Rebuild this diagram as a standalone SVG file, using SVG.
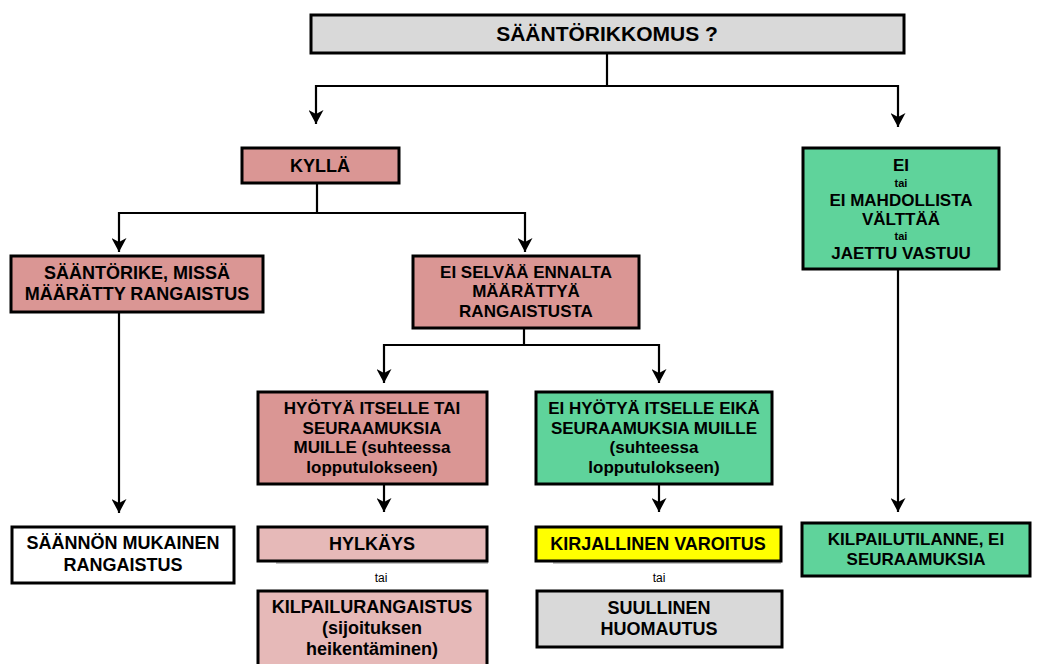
<svg xmlns="http://www.w3.org/2000/svg" width="1049" height="664" viewBox="0 0 1049 664">
<style>
.box{stroke:#000;stroke-width:3}
.gray{fill:#d9d9d9}
.pink{fill:#da9694}
.lpink{fill:#e6b9b8}
.green{fill:#5fd39b}
.white{fill:#fff}
.yellow{fill:#ffff00}
.shadow{fill:#9a9a9a;opacity:0.6}
text{font-family:"Liberation Sans",Arial,sans-serif;font-weight:bold;text-anchor:middle;fill:#000}
.f18{font-size:18px}
.f17{font-size:17px}
.f21{font-size:21px}
.tai{font-size:12px;font-weight:normal}
.tais{font-size:11px}
.conn{fill:none;stroke:#000;stroke-width:2.2}
</style>
<defs>
<marker id="arr" markerUnits="userSpaceOnUse" markerWidth="14" markerHeight="15" viewBox="0 0 14 15" refX="14" refY="7.5" orient="auto">
<path d="M0,0 L14,7.5 L0,15 L4,7.5 z" fill="#000"/>
</marker>
</defs>
<rect width="1049" height="664" fill="#fff"/>
<g id="connectors">
<path class="conn" d="M607,53 V86"/>
<path class="conn" d="M607,86 H316 V124" marker-end="url(#arr)"/>
<path class="conn" d="M607,86 H898 V127" marker-end="url(#arr)"/>
<path class="conn" d="M317,183 V213"/>
<path class="conn" d="M317,213 H119 V252" marker-end="url(#arr)"/>
<path class="conn" d="M317,213 H525 V252" marker-end="url(#arr)"/>
<path class="conn" d="M119,312 V513" marker-end="url(#arr)"/>
<path class="conn" d="M524,328 V345"/>
<path class="conn" d="M524,345 H384 V383" marker-end="url(#arr)"/>
<path class="conn" d="M524,345 H659 V383" marker-end="url(#arr)"/>
<path class="conn" d="M384,484 V512" marker-end="url(#arr)"/>
<path class="conn" d="M659,484 V512" marker-end="url(#arr)"/>
<path class="conn" d="M898,269 V512" marker-end="url(#arr)"/>
</g>
<g id="n-top">
<rect class="box gray" x="311" y="15" width="593" height="38"/>
<text class="f21" x="607" y="41">SÄÄNTÖRIKKOMUS ?</text>
</g>
<g id="n-kylla">
<rect class="box pink" x="242" y="148" width="157" height="35"/>
<text class="f18" x="320" y="172">KYLLÄ</text>
</g>
<g id="n-saantorike">
<rect class="box pink" x="11" y="256" width="252" height="56"/>
<text class="f18" x="137" y="279">SÄÄNTÖRIKE, MISSÄ</text>
<text class="f18" x="137" y="300">MÄÄRÄTTY RANGAISTUS</text>
</g>
<g id="n-eiselvaa">
<rect class="box pink" x="413" y="256" width="226" height="72"/>
<text class="f17" x="526" y="278">EI SELVÄÄ ENNALTA</text>
<text class="f17" x="526" y="297">MÄÄRÄTTYÄ</text>
<text class="f17" x="526" y="317">RANGAISTUSTA</text>
</g>
<g id="n-ei">
<rect class="box green" x="803" y="148" width="196" height="121"/>
<text class="f17" x="901" y="171">EI</text>
<text class="tais" x="901" y="187">tai</text>
<text class="f17" x="901" y="206">EI MAHDOLLISTA</text>
<text class="f17" x="901" y="225">VÄLTTÄÄ</text>
<text class="tais" x="901" y="240">tai</text>
<text class="f17" x="901" y="259">JAETTU VASTUU</text>
</g>
<g id="n-hyotya">
<rect class="box pink" x="258" y="392" width="229" height="92"/>
<text class="f17" x="372" y="414">HYÖTYÄ ITSELLE TAI</text>
<text class="f17" x="372" y="434">SEURAAMUKSIA</text>
<text class="f17" x="372" y="453">MUILLE (suhteessa</text>
<text class="f17" x="372" y="473">lopputulokseen)</text>
</g>
<g id="n-eihyotya">
<rect class="box green" x="536" y="392" width="236" height="92"/>
<text class="f17" x="654" y="414">EI HYÖTYÄ ITSELLE EIKÄ</text>
<text class="f17" x="654" y="434">SEURAAMUKSIA MUILLE</text>
<text class="f17" x="654" y="453">(suhteessa</text>
<text class="f17" x="654" y="473">lopputulokseen)</text>
</g>
<g id="n-saannon">
<rect class="box white" x="12" y="527" width="222" height="56"/>
<text class="f18" x="123" y="549">SÄÄNNÖN MUKAINEN</text>
<text class="f18" x="123" y="571">RANGAISTUS</text>
</g>
<g id="n-hylkays">
<rect class="shadow" x="276" y="561" width="212" height="3"/>
<rect class="box lpink" x="258" y="527" width="229" height="34"/>
<text class="f18" x="372" y="550">HYLKÄYS</text>
</g>
<g id="t-tai1">
<text class="tai" x="381" y="582">tai</text>
</g>
<g id="n-kilpailurangaistus">
<rect class="box lpink" x="258" y="591" width="229" height="80"/>
<text class="f18" x="372" y="613">KILPAILURANGAISTUS</text>
<text class="f18" x="372" y="634">(sijoituksen</text>
<text class="f18" x="372" y="655">heikentäminen)</text>
</g>
<g id="n-kirjallinen">
<rect class="shadow" x="553" y="561" width="228" height="3"/>
<rect class="box yellow" x="536" y="527" width="245" height="34"/>
<text class="f18" x="658" y="550">KIRJALLINEN VAROITUS</text>
</g>
<g id="t-tai2">
<text class="tai" x="659" y="582">tai</text>
</g>
<g id="n-suullinen">
<rect class="box gray" x="537" y="591" width="245" height="56"/>
<text class="f18" x="659" y="614">SUULLINEN</text>
<text class="f18" x="659" y="635">HUOMAUTUS</text>
</g>
<g id="n-kilpailutilanne">
<rect class="box green" x="802" y="523" width="228" height="53"/>
<text class="f17" x="916" y="545">KILPAILUTILANNE, EI</text>
<text class="f17" x="916" y="565">SEURAAMUKSIA</text>
</g>
</svg>
